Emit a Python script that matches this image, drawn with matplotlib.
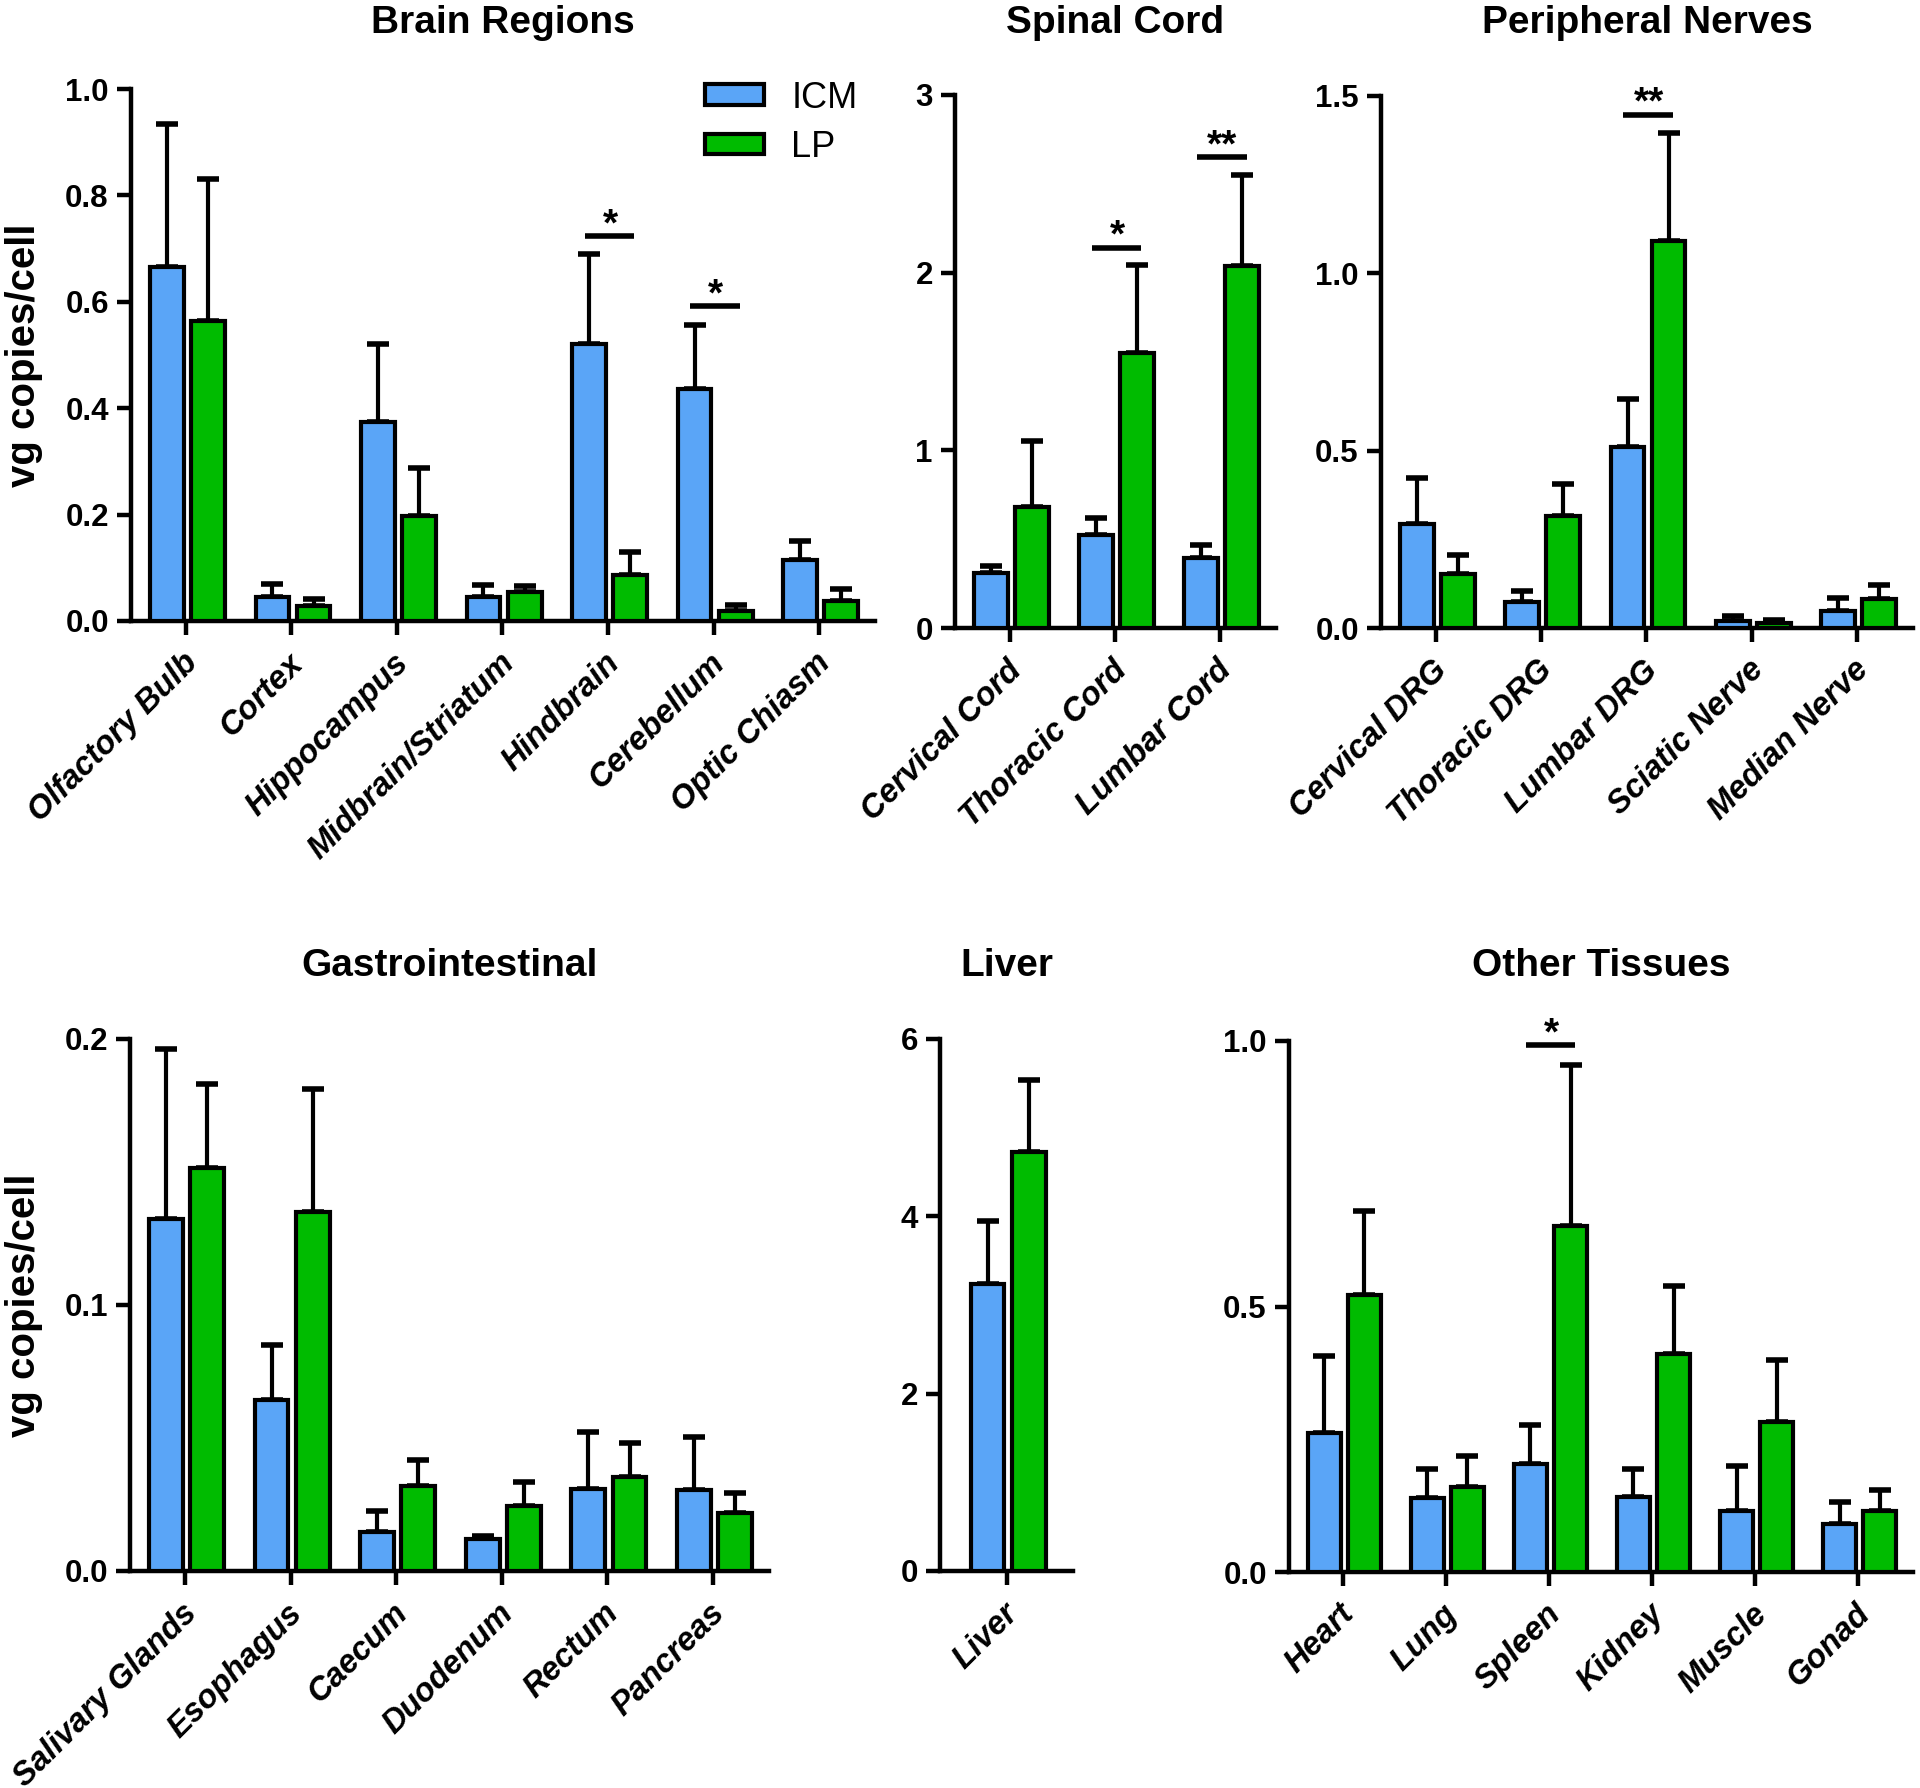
import matplotlib
matplotlib.use('Agg')
import matplotlib.pyplot as plt
from matplotlib.patches import Patch
import numpy as np

# colours
icm_color = '#5aa5f7'
lp_color = '#00bb00'

# --- data (vg copies/cell, mean and upper error) ---
brain_labels = ['Olfactory Bulb', 'Cortex', 'Hippocampus', 'Midbrain/Striatum',
                'Hindbrain', 'Cerebellum', 'Optic Chiasm']
brain_icm = [0.665, 0.046, 0.374, 0.046, 0.520, 0.437, 0.115]
brain_icm_err = [0.270, 0.023, 0.146, 0.022, 0.170, 0.120, 0.035]
brain_lp = [0.563, 0.029, 0.197, 0.055, 0.087, 0.018, 0.037]
brain_lp_err = [0.268, 0.012, 0.091, 0.011, 0.043, 0.012, 0.023]

spinal_labels = ['Cervical Cord', 'Thoracic Cord', 'Lumbar Cord']
spinal_icm = [0.308, 0.525, 0.392]
spinal_icm_err = [0.040, 0.094, 0.073]
spinal_lp = [0.682, 1.548, 2.038]
spinal_lp_err = [0.368, 0.495, 0.514]

nerve_labels = ['Cervical DRG', 'Thoracic DRG', 'Lumbar DRG', 'Sciatic Nerve', 'Median Nerve']
nerve_icm = [0.292, 0.074, 0.509, 0.021, 0.049]
nerve_icm_err = [0.132, 0.031, 0.138, 0.014, 0.035]
nerve_lp = [0.152, 0.316, 1.090, 0.015, 0.082]
nerve_lp_err = [0.055, 0.090, 0.307, 0.008, 0.038]

gi_labels = ['Salivary Glands', 'Esophagus', 'Caecum', 'Duodenum', 'Rectum', 'Pancreas']
gi_icm = [0.1322, 0.0644, 0.0148, 0.0122, 0.0309, 0.0304]
gi_icm_err = [0.0642, 0.0206, 0.0078, 0.0011, 0.0213, 0.0199]
gi_lp = [0.1515, 0.1348, 0.0320, 0.0246, 0.0354, 0.0218]
gi_lp_err = [0.0317, 0.0465, 0.0096, 0.0089, 0.0126, 0.0077]

liver_labels = ['Liver']
liver_icm = [3.236]
liver_icm_err = [0.714]
liver_lp = [4.730]
liver_lp_err = [0.810]

other_labels = ['Heart', 'Lung', 'Spleen', 'Kidney', 'Muscle', 'Gonad']
other_icm = [0.262, 0.139, 0.203, 0.141, 0.114, 0.090]
other_icm_err = [0.144, 0.055, 0.073, 0.053, 0.086, 0.041]
other_lp = [0.522, 0.161, 0.652, 0.410, 0.283, 0.114]
other_lp_err = [0.158, 0.058, 0.303, 0.128, 0.117, 0.041]

# significance marks: (category index, line height, text)
brain_sig = [(4, 0.723, '*'), (5, 0.592, '*')]
spinal_sig = [(1, 2.141, '*'), (2, 2.65, '**')]
nerve_sig = [(2, 1.447, '**')]
other_sig = [(2, 0.992, '*')]

W, H = 1920, 1788
fig = plt.figure(figsize=(W / 100, H / 100), dpi=100)

font = ['Liberation Sans', 'DejaVu Sans']


def make_ax(left, right, top, bottom):
    return fig.add_axes([left / W, 1 - bottom / H, (right - left) / W, (bottom - top) / H])


def panel(ax, title, labels, icm, icm_err, lp, lp_err, ymax, yticks, fmt, sig=()):
    x = np.arange(len(labels))
    bw = 0.32
    ax.bar(x - 0.18, icm, bw, color=icm_color, edgecolor='black', linewidth=3, zorder=3)
    ax.bar(x + 0.21, lp, bw, color=lp_color, edgecolor='black', linewidth=3, zorder=3)
    ax.errorbar(x - 0.18, icm, yerr=[np.zeros(len(x)), icm_err], fmt='none',
                ecolor='black', elinewidth=3, capsize=8, capthick=4, zorder=2)
    ax.errorbar(x + 0.21, lp, yerr=[np.zeros(len(x)), lp_err], fmt='none',
                ecolor='black', elinewidth=3, capsize=8, capthick=4, zorder=2)
    ax.set_xlim(-0.52, len(labels) - 0.47)
    ax.set_ylim(0, ymax)
    ax.set_yticks(yticks)
    ax.set_yticklabels([fmt.format(v) for v in yticks], fontfamily=font,
                       fontweight='bold', fontsize=22.5)
    ax.set_xticks(x)
    ax.set_xticklabels([])
    # rotated category labels, ending just right of each tick
    xform = ax.get_xaxis_transform()
    for xi, lab in zip(x, labels):
        ax.annotate(lab, (xi, 0), xycoords=xform, xytext=(5, -27),
                    textcoords='offset points', rotation=45, ha='right', va='center',
                    rotation_mode='anchor', fontfamily=font, fontweight='bold',
                    fontstyle='italic', fontsize=23.5, annotation_clip=False)
    for s in ['top', 'right']:
        ax.spines[s].set_visible(False)
    for s in ['left', 'bottom']:
        ax.spines[s].set_linewidth(3.2)
    ax.tick_params(axis='both', length=10, width=3.2, pad=6)
    for i, yy, star in sig:
        ax.plot([i - 0.22, i + 0.25], [yy, yy], color='black', lw=4, clip_on=False,
                solid_capstyle='butt')
        ax.annotate(star, (i + 0.02, yy), xytext=(0, -5), textcoords='offset points',
                    ha='center', va='bottom', fontsize=28, fontweight='bold',
                    fontfamily=font, annotation_clip=False)
    # panel title, centred over the axes
    bb = ax.get_position()
    ty = 23 if bb.y0 > 0.5 else 966
    fig.text((bb.x0 + bb.x1) / 2, 1 - ty / H, title, ha='center', va='center',
             fontfamily=font, fontweight='bold', fontsize=28)
    return ax


ax1 = make_ax(131, 875, 89, 621)
panel(ax1, 'Brain Regions', brain_labels, brain_icm, brain_icm_err, brain_lp, brain_lp_err,
      1.0, [0, 0.2, 0.4, 0.6, 0.8, 1.0], '{:.1f}', brain_sig)
ax2 = make_ax(955, 1276, 95, 628)
panel(ax2, 'Spinal Cord', spinal_labels, spinal_icm, spinal_icm_err, spinal_lp, spinal_lp_err,
      3, [0, 1, 2, 3], '{:.0f}', spinal_sig)
ax3 = make_ax(1381, 1913, 96, 628)
panel(ax3, 'Peripheral Nerves', nerve_labels, nerve_icm, nerve_icm_err, nerve_lp, nerve_lp_err,
      1.5, [0, 0.5, 1.0, 1.5], '{:.1f}', nerve_sig)
ax4 = make_ax(130, 769, 1039, 1571)
panel(ax4, 'Gastrointestinal', gi_labels, gi_icm, gi_icm_err, gi_lp, gi_lp_err,
      0.2, [0, 0.1, 0.2], '{:.1f}')
ax5 = make_ax(940, 1073, 1039, 1571)
panel(ax5, 'Liver', liver_labels, liver_icm, liver_icm_err, liver_lp, liver_lp_err,
      6, [0, 2, 4, 6], '{:.0f}')
ax5.set_xlim(-0.63, 0.63)
ax6 = make_ax(1289, 1913, 1041, 1572)
panel(ax6, 'Other Tissues', other_labels, other_icm, other_icm_err, other_lp, other_lp_err,
      1.0, [0, 0.5, 1.0], '{:.1f}', other_sig)

for ax in [ax1, ax4]:
    bb = ax.get_position()
    fig.text(24 / W, (bb.y0 + bb.y1) / 2, 'vg copies/cell', rotation=90, ha='center',
             va='center', fontsize=29, fontweight='bold', fontfamily=font)

handles = [Patch(facecolor=icm_color, edgecolor='black', linewidth=3, label='ICM'),
           Patch(facecolor=lp_color, edgecolor='black', linewidth=3, label='LP')]
fig.legend(handles=handles, loc='upper left', bbox_to_anchor=(672 / W, 1 - 48 / H),
           frameon=False, prop={'family': font, 'size': 26},
           handlelength=1.65, handleheight=0.5, labelspacing=0.4, handletextpad=0.75)

fig.savefig('out.png', dpi=100)
